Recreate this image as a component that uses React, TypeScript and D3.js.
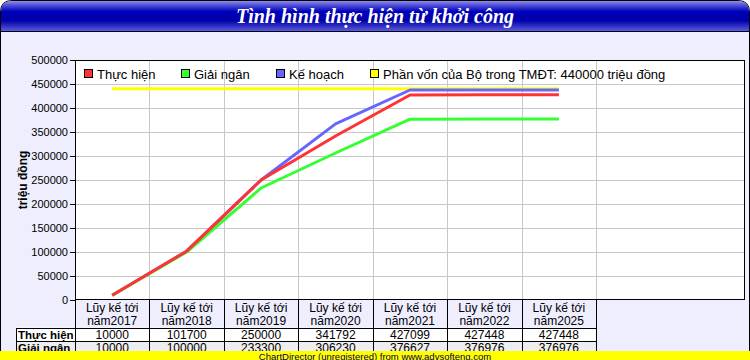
import React from "react";
import * as d3 from "d3";

const title = "Tình hình thực hiện từ khởi công";
const headerPrefix = "Lũy kế tới";
const categories = ["năm2017", "năm2018", "năm2019", "năm2020", "năm2021", "năm2022", "năm2025"];
const thucHien = [10000, 101700, 250000, 341792, 427099, 427448, 427448];
const giaiNgan = [10000, 100000, 233300, 306230, 376627, 376976, 376976];
const keHoach = [10000, 101700, 250000, 367000, 437500, 437500, 437500];
const phanVon = [440000, 440000, 440000, 440000, 440000, 440000, 440000];
const phanVonLabel = "Phần vốn của Bộ trong TMĐT: 440000 triệu đồng";
const yTicks = [0, 50000, 100000, 150000, 200000, 250000, 300000, 350000, 400000, 450000, 500000];
const yTitle = "triệu đồng";
const seriesNames = ["Thực hiện", "Giải ngân", "Kế hoạch"];
const banner = "ChartDirector (unregistered) from www.advsofteng.com";

const W = 750, H = 360;
const PL = 75, PR = 745, PT = 60, PB = 300;
const SLOTS = 9;

export default function App() {
  const x = d3.scaleLinear().domain([0, SLOTS]).range([PL, PR]);
  const y = d3.scaleLinear().domain([0, 500000]).range([PB, PT]);
  const cx = (i: number) => x(i + 0.5);
  const line = d3.line<number>().x((_, i) => cx(i)).y((d) => y(d));

  const series = [
    { name: phanVonLabel, data: phanVon, color: "#ffff00" },
    { name: seriesNames[2], data: keHoach, color: "#6666ff" },
    { name: seriesNames[1], data: giaiNgan, color: "#33ff33" },
    { name: seriesNames[0], data: thucHien, color: "#ff3333" },
  ];
  const legend = [
    { name: seriesNames[0], color: "#ff3333", x: 84 },
    { name: seriesNames[1], color: "#33ff33", x: 181 },
    { name: seriesNames[2], color: "#6666ff", x: 276 },
    { name: phanVonLabel, color: "#ffff00", x: 370 },
  ];
  const font = "Arial, 'Liberation Sans', sans-serif";
  const n = categories.length;
  const tableRight = x(n);
  const rowH = 13.5;
  const headBottom = 327.7;
  const rows = [
    { name: seriesNames[0], data: thucHien, bg: "#ffffff" },
    { name: seriesNames[1], data: giaiNgan, bg: "#eeeeee" },
  ];

  return (
    <svg width={W} height={H} style={{ position: "absolute", left: 0, top: 0 }} fontFamily={font}>
      <defs>
        <linearGradient id="tb" x1="0" y1="0" x2="0" y2="1">
          <stop offset="0" stopColor="#9090ec" />
          <stop offset="0.1" stopColor="#6060dc" />
          <stop offset="0.35" stopColor="#0000bc" />
          <stop offset="0.65" stopColor="#0000a8" />
          <stop offset="1" stopColor="#5a5ae0" />
        </linearGradient>
      </defs>
      <path
        d={`M0.5,${H} L0.5,12 Q0.5,0.5 12,0.5 L${W - 12},0.5 Q${W - 0.5},0.5 ${W - 0.5},12 L${W - 0.5},${H}`}
        fill="#eeeeff"
        stroke="#000"
      />
      <path
        d={`M1,31 L1,12 Q1,1 12,1 L${W - 12},1 Q${W - 1},1 ${W - 1},12 L${W - 1},31 Z`}
        fill="url(#tb)"
      />
      <line x1={1} x2={W - 1} y1={31.5} y2={31.5} stroke="#000" />
      <text x={375} y={23} textAnchor="middle" fill="#fff" fontFamily="'Liberation Serif', 'Times New Roman', serif" fontStyle="italic" fontWeight="bold" fontSize={20}>
        {title}
      </text>

      {/* plot area */}
      <rect x={PL} y={PT} width={PR - PL} height={PB - PT} fill="#fff" />
      {yTicks.slice(1, -1).map((t) => (
        <line key={t} x1={PL} x2={PR} y1={Math.round(y(t)) + 0.5} y2={Math.round(y(t)) + 0.5} stroke="#c8c8c8" />
      ))}
      {d3.range(1, n + 1).map((i) => (
        <line key={i} x1={Math.round(x(i)) + 0.5} x2={Math.round(x(i)) + 0.5} y1={PT} y2={PB} stroke="#c8c8c8" />
      ))}
      {series.map((s) => (
        <path key={s.name} d={line(s.data) || ""} fill="none" stroke={s.color} strokeWidth={3} strokeLinejoin="round" />
      ))}
      <rect x={PL + 0.5} y={PT + 0.5} width={PR - PL - 1} height={PB - PT - 1} fill="none" stroke="#000" />

      {/* legend */}
      {legend.map((l) => (
        <g key={l.name}>
          <rect x={l.x + 0.5} y={69.5} width={8} height={8} fill={l.color} stroke="#000" />
          <text x={l.x + 13} y={78.5} fontSize={13} fill="#000">{l.name}</text>
        </g>
      ))}

      {/* y axis */}
      {yTicks.map((t) => (
        <g key={t}>
          <line x1={70} x2={PL} y1={Math.round(y(t)) + 0.5} y2={Math.round(y(t)) + 0.5} stroke="#000" />
          <text x={68} y={y(t) + 4} textAnchor="end" fontSize={11} fill="#000">{t}</text>
        </g>
      ))}
      <text transform={`translate(27,180) rotate(-90)`} textAnchor="middle" fontSize={12} fontWeight="bold" fill="#000">
        {yTitle}
      </text>

      {/* table */}
      {rows.map((r, ri) => {
        const top = headBottom + ri * rowH;
        return (
          <g key={r.name}>
            <rect x={16} y={top} width={tableRight - 16} height={rowH} fill={r.bg} />
            <text x={18} y={top + 11} fontSize={11.5} fontWeight="bold" fill="#000">{r.name}</text>
            {r.data.map((v, i) => (
              <text key={i} x={cx(i)} y={top + 11} textAnchor="middle" fontSize={12} fill="#000">{v}</text>
            ))}
            <line x1={16} x2={tableRight} y1={Math.round(top) + 0.5} y2={Math.round(top) + 0.5} stroke="#000" />
            <line x1={16} x2={tableRight} y1={Math.round(top + rowH) + 0.5} y2={Math.round(top + rowH) + 0.5} stroke="#000" />
          </g>
        );
      })}
      <line x1={16.5} x2={16.5} y1={Math.round(headBottom)} y2={H} stroke="#000" />
      {categories.map((c, i) => (
        <g key={c}>
          <text x={cx(i)} y={312} textAnchor="middle" fontSize={12} fill="#000">{headerPrefix}</text>
          <text x={cx(i)} y={325} textAnchor="middle" fontSize={12} fill="#000">{c}</text>
        </g>
      ))}
      {d3.range(0, n + 1).map((i) => (
        <line key={i} x1={Math.round(x(i)) + 0.5} x2={Math.round(x(i)) + 0.5} y1={PB} y2={H} stroke="#000" />
      ))}

      {/* banner */}
      <rect x={0} y={351} width={W} height={9} fill="#ffff00" />
      <text x={375} y={359.5} textAnchor="middle" fontSize={9.5} fill="#000040">{banner}</text>
    </svg>
  );
}
